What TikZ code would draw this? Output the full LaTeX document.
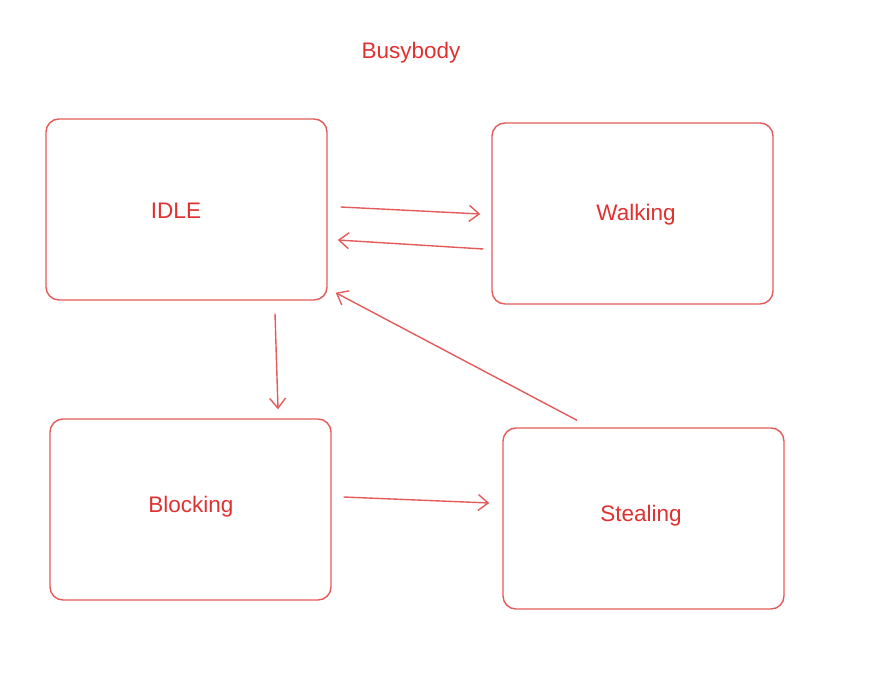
\documentclass[tikz,border=0pt]{standalone}
\usepackage{fontspec}
\setmainfont{Liberation Sans}
\usetikzlibrary{arrows.meta,calc}
\definecolor{strk}{HTML}{E45B5B}
\definecolor{txt}{HTML}{E03131}
\tikzset{
  box/.style={draw=strk, line width=1.4pt, rounded corners=13pt, minimum width=281pt, minimum height=181pt, inner sep=0pt},
  lbl/.style={text=txt, font=\fontsize{22.5}{26}\selectfont, inner sep=0pt},
  conn/.style={draw=strk, line width=1.4pt, -{Straight Barb[length=10pt,width=16pt,line width=1.4pt]}}
}
\begin{document}
\begin{tikzpicture}[x=1pt,y=-1pt]
\useasboundingbox (0,0) rectangle (870,682);
\node[lbl] (title) at (411,53) {Busybody};
\node[box] (idle) at (186.5,209.5) {};
\node[box] (walk) at (632.5,213.5) {};
\node[box] (block) at (190.5,509.5) {};
\node[box] (steal) at (643.5,518.5) {};
\node[lbl] (idlet) at (176,211) {IDLE};
\node[lbl] (walkt) at (636,215) {Walking};
\node[lbl] (blockt) at (191,507) {Blocking};
\node[lbl] (stealt) at (641,516) {Stealing};
\draw[conn] ($(idle.east)+(13,-2.5)$) -- ($(walk.west)+(-11,0.5)$);
\draw[conn] ($(walk.west)+(-8,35.5)$) -- ($(idle.east)+(10,30.5)$);
\draw[conn] ($(idle.south)+(88.5,13)$) -- ($(block.north)+(87.5,-9)$);
\draw[conn] ($(steal.north)+(-66.5,-7)$) -- ($(idle.south east)+(8,-8)$);
\draw[conn] ($(block.east)+(12,-12.5)$) -- ($(steal.west)+(-13,-15.5)$);
\end{tikzpicture}
\end{document}
